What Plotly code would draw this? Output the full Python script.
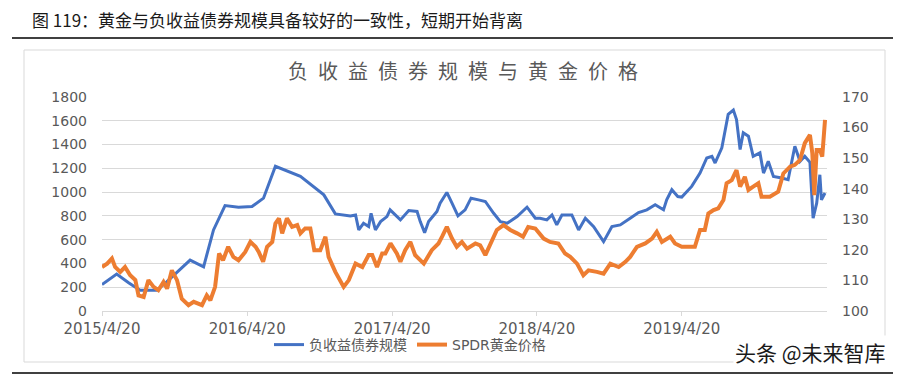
import plotly.graph_objects as go

# ---------------- data ----------------
bond_dates = [
    "2015-04-20", "2015-05-27", "2015-06-26", "2015-07-25", "2015-09-05", "2015-09-30",
    "2015-11-28", "2016-01-01", "2016-01-26", "2016-02-24", "2016-03-29", "2016-05-02",
    "2016-05-31", "2016-06-30", "2016-09-01", "2016-10-30", "2016-11-28", "2017-01-05",
    "2017-01-18", "2017-01-26", "2017-02-07", "2017-02-20", "2017-02-26", "2017-03-09",
    "2017-03-22", "2017-04-07", "2017-04-15", "2017-04-28", "2017-05-11", "2017-06-01",
    "2017-06-22", "2017-06-30", "2017-07-11", "2017-07-21", "2017-08-11", "2017-08-19",
    "2017-09-05", "2017-09-18", "2017-10-03", "2017-10-21", "2017-11-05", "2017-11-24",
    "2017-12-11", "2018-01-01", "2018-01-18", "2018-02-04", "2018-03-01", "2018-03-26",
    "2018-04-16", "2018-04-28", "2018-05-15", "2018-05-28", "2018-06-09", "2018-06-22",
    "2018-07-17", "2018-08-03", "2018-08-20", "2018-09-10", "2018-10-05", "2018-10-26",
    "2018-11-16", "2018-12-11", "2019-01-01", "2019-01-22", "2019-02-12", "2019-03-05",
    "2019-03-13", "2019-03-26", "2019-04-03", "2019-04-10", "2019-04-20", "2019-05-15",
    "2019-06-05", "2019-06-22", "2019-07-05", "2019-07-13", "2019-07-30", "2019-08-15",
    "2019-08-28", "2019-09-05", "2019-09-14", "2019-09-22", "2019-10-05", "2019-10-17",
    "2019-11-03", "2019-11-12", "2019-11-24", "2019-12-07", "2019-12-28", "2020-01-13",
    "2020-01-30", "2020-02-12", "2020-02-24", "2020-03-08", "2020-03-16", "2020-03-25",
    "2020-04-02", "2020-04-06", "2020-04-15",
]
bond_values = [
    222, 310, 237, 175, 175, 245,
    428, 372, 682, 887, 873, 879,
    949, 1217, 1132, 977, 817, 800,
    808, 682, 738, 710, 822, 682,
    752, 794, 851, 808, 766, 845,
    837, 752, 659, 752, 837, 907,
    997, 907, 800, 851, 949, 935,
    921, 822, 752, 738, 794, 873,
    780, 780, 766, 808, 724, 808,
    808, 682, 780, 710, 583, 710,
    724, 780, 828, 851, 893, 851,
    935, 1020, 992, 963, 958, 1048,
    1160, 1287, 1301, 1245, 1372, 1654,
    1690, 1611, 1358, 1499, 1470, 1301,
    1330, 1160, 1259, 1132, 1118, 1104,
    1386, 1259, 1301, 1250, 780, 907,
    1146, 935, 992,
]

gold_dates = [
    "2015-04-20", "2015-05-03", "2015-05-15", "2015-05-23", "2015-06-05", "2015-06-17",
    "2015-06-30", "2015-07-13", "2015-07-21", "2015-08-03", "2015-08-15", "2015-08-28",
    "2015-09-09", "2015-09-22", "2015-10-01", "2015-10-13", "2015-10-26", "2015-11-07",
    "2015-11-24", "2015-12-07", "2015-12-28", "2016-01-09", "2016-01-18", "2016-01-30",
    "2016-02-09", "2016-02-19", "2016-03-03", "2016-03-16", "2016-03-29", "2016-04-15",
    "2016-04-28", "2016-05-11", "2016-05-19", "2016-05-30", "2016-06-09", "2016-06-22",
    "2016-06-30", "2016-07-09", "2016-07-17", "2016-07-29", "2016-08-11", "2016-08-24",
    "2016-09-01", "2016-09-13", "2016-09-26", "2016-10-06", "2016-10-21", "2016-11-03",
    "2016-11-11", "2016-11-28", "2016-12-19", "2017-01-01", "2017-01-18", "2017-02-04",
    "2017-02-20", "2017-03-01", "2017-03-13", "2017-03-26", "2017-04-03", "2017-04-16",
    "2017-05-02", "2017-05-11", "2017-05-23", "2017-06-05", "2017-06-17", "2017-07-09",
    "2017-07-29", "2017-08-15", "2017-08-24", "2017-09-05", "2017-09-18", "2017-09-30",
    "2017-10-13", "2017-10-26", "2017-11-16", "2017-11-28", "2017-12-11", "2017-12-28",
    "2018-01-09", "2018-01-26", "2018-02-12", "2018-03-01", "2018-03-16", "2018-03-29",
    "2018-04-16", "2018-05-07", "2018-05-23", "2018-06-13", "2018-06-30", "2018-07-13",
    "2018-07-30", "2018-08-15", "2018-08-28", "2018-09-18", "2018-10-05", "2018-10-22",
    "2018-11-12", "2018-11-29", "2018-12-11", "2018-12-28", "2019-01-18", "2019-02-04",
    "2019-02-16", "2019-03-01", "2019-03-22", "2019-04-03", "2019-04-20", "2019-05-07",
    "2019-05-23", "2019-06-05", "2019-06-17", "2019-06-26", "2019-07-09", "2019-07-21",
    "2019-08-03", "2019-08-11", "2019-08-24", "2019-09-05", "2019-09-14", "2019-09-26",
    "2019-10-05", "2019-10-17", "2019-10-30", "2019-11-07", "2019-11-28", "2019-12-19",
    "2020-01-01", "2020-01-18", "2020-01-30", "2020-02-12", "2020-02-24", "2020-03-08",
    "2020-03-14", "2020-03-19", "2020-03-25", "2020-04-02", "2020-04-08", "2020-04-15",
]
gold_values = [
    114.4, 115.5, 117.2, 114.4, 112.8, 114.4,
    111.7, 110.1, 105.1, 104.6, 110.1, 107.9,
    106.8, 109.5, 107.3, 113.3, 110.1, 104.0,
    101.9, 103.0, 101.9, 105.1, 103.5, 107.9,
    118.8, 116.6, 121.0, 117.7, 116.6, 119.3,
    122.6, 121.0, 119.3, 116.1, 121.0, 122.6,
    128.6, 130.3, 125.4, 130.3, 127.5, 128.1,
    125.4, 127.0, 127.0, 119.9, 119.9, 124.3,
    117.7, 112.8, 107.9, 110.1, 115.5, 114.4,
    118.3, 118.3, 114.4, 118.8, 118.8, 122.1,
    118.8, 116.1, 119.9, 122.6, 118.3, 115.5,
    119.9, 122.1, 124.3, 127.5, 123.7, 121.0,
    122.6, 120.4, 122.1, 121.5, 118.3, 123.2,
    126.5, 128.1, 126.5, 125.4, 124.3, 127.5,
    127.0, 123.7, 122.6, 122.1, 118.8, 117.7,
    115.5, 111.7, 113.3, 112.8, 112.2, 115.5,
    114.4, 116.1, 117.7, 121.0, 122.1, 123.7,
    125.9, 122.6, 124.3, 122.1, 121.0, 121.0,
    121.0, 126.5, 126.5, 131.9, 133.0, 133.6,
    136.3, 141.8, 142.8, 146.1, 140.7, 143.9,
    139.6, 140.7, 141.8, 137.4, 137.4, 139.0,
    145.0, 147.2, 147.8, 149.4, 154.9, 157.6,
    151.6, 137.9, 152.7, 152.7, 150.5, 162.5,
]

tick_dates = ["2015-04-20", "2016-04-20", "2017-04-20", "2018-04-20", "2019-04-20"]
tick_labels = ["2015/4/20", "2016/4/20", "2017/4/20", "2018/4/20", "2019/4/20"]

header_text = "图 119：黄金与负收益债券规模具备较好的一致性，短期开始背离"
chart_title = "负收益债券规模与黄金价格"
series_names = ["负收益债券规模", "SPDR黄金价格"]
watermark = "头条 @未来智库"

# ---------------- figure ----------------
W, H = 905, 378
ML, MR, MT, MB = 102, 78, 97, 67
PW, PH = W - ML - MR, H - MT - MB


def px_x(p):
    return (p - ML) / PW


def px_y(p):
    return (H - MB - p) / PH


def spaced(text, px):
    return '<span style="letter-spacing:%dpx">%s</span>' % (px, text)


FONT = "DejaVu Sans, Noto Sans CJK SC, sans-serif"
CJK = "Noto Sans CJK SC, sans-serif"
GRAY = "#595959"
GRID = "#D9D9D9"

fig = go.Figure()
fig.add_trace(go.Scatter(
    x=bond_dates, y=bond_values, name=series_names[0], mode="lines",
    line=dict(color="#4472C4", width=3), yaxis="y",
))
fig.add_trace(go.Scatter(
    x=gold_dates, y=gold_values, name=series_names[1], mode="lines",
    line=dict(color="#ED7D31", width=4), yaxis="y2",
))

fig.update_layout(
    width=W, height=H,
    margin=dict(l=ML, r=MR, t=MT, b=MB),
    paper_bgcolor="white", plot_bgcolor="white",
    font=dict(family=FONT, color=GRAY, size=13),
    title=dict(text=spaced(chart_title, 10), x=468 / W, xanchor="center", xref="container",
               y=1 - 72 / H, yanchor="middle",
               font=dict(family=CJK, size=20, color=GRAY)),
    showlegend=True,
    legend=dict(orientation="h", x=px_x(410), xanchor="center", y=px_y(345), yanchor="middle",
                font=dict(family=FONT, size=14, color=GRAY), bgcolor="rgba(0,0,0,0)",
                itemwidth=30, traceorder="normal"),
    xaxis=dict(
        type="date", range=["2015-04-20", "2020-04-20"],
        tickmode="array", tickvals=tick_dates, ticktext=tick_labels,
        showgrid=False, showline=True, linecolor=GRID, linewidth=1,
        ticks="outside", ticklen=4, tickcolor=GRID,
        tickfont=dict(family=FONT, size=15, color=GRAY),
        zeroline=False,
    ),
    yaxis=dict(
        range=[0, 1800], tickmode="linear", tick0=0, dtick=200,
        showgrid=True, gridcolor=GRID, gridwidth=1, zeroline=False,
        showline=False, ticks="", ticklabelstandoff=14,
        tickfont=dict(family=FONT, size=14, color=GRAY),
    ),
    yaxis2=dict(
        range=[100, 170], tickmode="linear", tick0=100, dtick=10,
        overlaying="y", side="right", showgrid=False, zeroline=False,
        showline=False, ticks="", ticklabelstandoff=14,
        tickfont=dict(family=FONT, size=14, color=GRAY),
    ),
)

# chart frame and page rules
fig.add_shape(type="rect", xref="paper", yref="paper",
              x0=px_x(24), x1=px_x(885), y0=px_y(362), y1=px_y(50),
              line=dict(color=GRID, width=1), fillcolor="rgba(0,0,0,0)", layer="below")
fig.add_shape(type="line", xref="paper", yref="paper",
              x0=px_x(12), x1=px_x(893), y0=px_y(38), y1=px_y(38),
              line=dict(color="#000000", width=1.5))
fig.add_shape(type="line", xref="paper", yref="paper",
              x0=px_x(12), x1=px_x(893), y0=px_y(373), y1=px_y(373),
              line=dict(color="#000000", width=1.5))

fig.add_annotation(text=header_text, xref="paper", yref="paper",
                   x=px_x(30), y=px_y(19), xanchor="left", yanchor="middle",
                   showarrow=False, font=dict(family=CJK, size=17, color="#1a1a1a"))
fig.add_annotation(text=watermark, xref="paper", yref="paper",
                   x=px_x(810), y=px_y(352), xanchor="center", yanchor="middle",
                   showarrow=False, bgcolor="white",
                   font=dict(family=CJK, size=21, color="#1a1a1a"))

fig.write_html("out.html")
